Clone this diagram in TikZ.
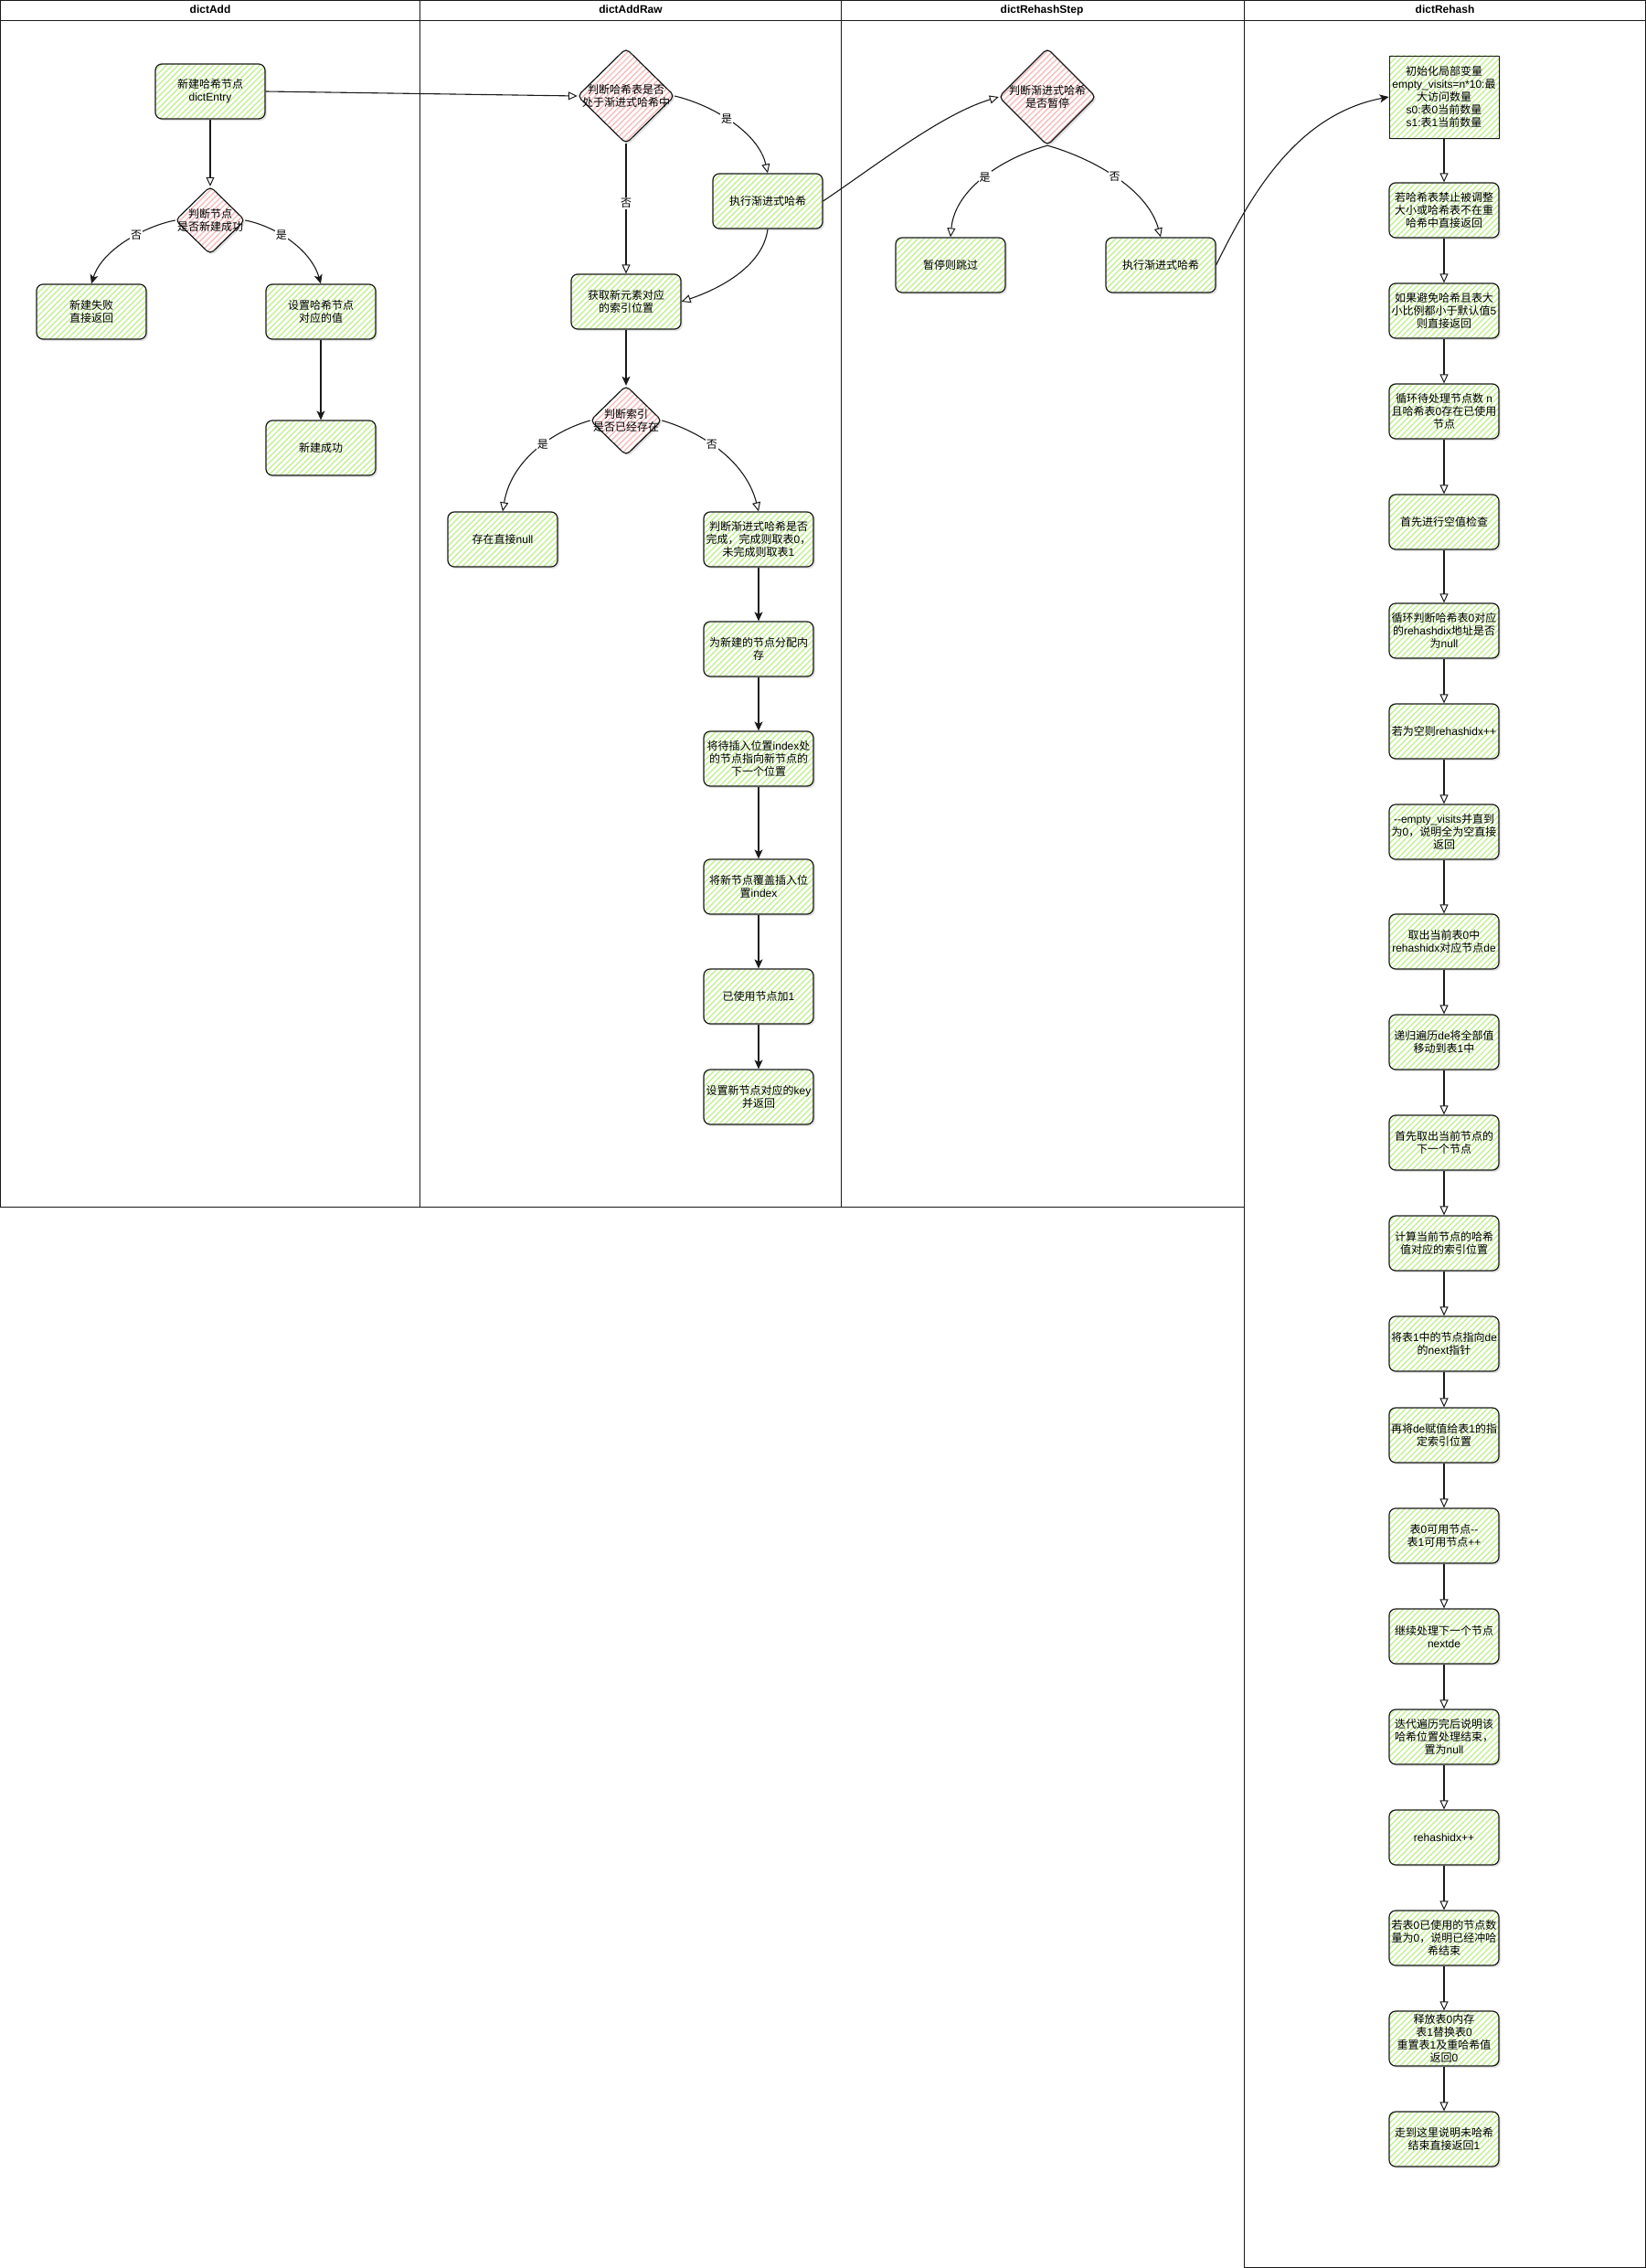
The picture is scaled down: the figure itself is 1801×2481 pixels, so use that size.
\documentclass[tikz,border=0pt]{standalone}
\usepackage{fontspec}
\setmainfont{Liberation Sans}
\newfontfamily\cjkfont{Noto Sans CJK SC}
\newfontfamily\latfont{Liberation Sans}
\usetikzlibrary{arrows.meta,patterns.meta,shadows}
\XeTeXinterchartokenstate=1
\newXeTeXintercharclass\CJKcls
\makeatletter
\def\setcjkrange#1#2{\count@=#1\relax\loop\XeTeXcharclass\count@=\CJKcls\relax\ifnum\count@<#2\relax\advance\count@ by 1\relax\repeat}
\makeatother
\setcjkrange{"4E00}{"9FFF}
\setcjkrange{"3000}{"303F}
\setcjkrange{"FF00}{"FFEF}
\XeTeXinterchartoks 0 \CJKcls = {\cjkfont}
\XeTeXinterchartoks 4095 \CJKcls = {\cjkfont}
\XeTeXinterchartoks \CJKcls 0 = {\latfont}
\XeTeXinterchartoks \CJKcls 4095 = {\latfont}
\definecolor{hatchg}{HTML}{C4F096}
\definecolor{hatchr}{HTML}{F7BDBD}
\definecolor{ink}{HTML}{1A1A1A}
\tikzset{
  lane/.style={draw=ink, line width=0.9pt},
  hdr/.style={font=\fontsize{12pt}{14pt}\selectfont\bfseries, inner sep=0pt, text height=9pt, text depth=2.5pt},
  box/.style={draw=ink, line width=1.2pt, rounded corners=7pt, minimum width=120pt, minimum height=60pt,
    inner sep=1pt, align=center,
    drop shadow={shadow xshift=2pt, shadow yshift=-2pt, opacity=0.22},
    preaction={fill=white},
    pattern={Lines[angle=45,distance=4.5pt,line width=1.4pt]}, pattern color=hatchg},
  sqbox/.style={box, rounded corners=0pt, line width=0.8pt, minimum height=90pt},
  diashape/.style={draw=ink, line width=1.2pt, rounded corners=5pt,
    drop shadow={shadow xshift=2pt, shadow yshift=-2pt, opacity=0.22},
    preaction={fill=white},
    pattern={Lines[angle=45,distance=4.5pt,line width=1.4pt]}, pattern color=hatchr},
  diatext/.style={inner sep=0pt, align=center},
  conn/.style={draw=ink, line width=1.1pt},
  hollow/.style={conn, -{Triangle[length=10pt,width=9pt,fill=white,line width=1pt]}},
  filled/.style={conn, -{Stealth[length=10pt,width=9pt,inset=2.5pt]}},
  lbl/.style={fill=white, inner sep=1pt}
}
\newcommand\mydia[6]{%
  \path[diashape] (#2,#3-#5/2) -- (#2+#4/2,#3) -- (#2,#3+#5/2) -- (#2-#4/2,#3) -- cycle;
  \node[diatext, minimum width=#4pt, minimum height=#5pt] (#1) at (#2,#3) {#6};}
\begin{document}
\begin{tikzpicture}[x=1pt,y=-1pt, font=\fontsize{12pt}{14pt}\selectfont]
\useasboundingbox (0,0) rectangle (1801,2481);
\fill[white] (0,0) rectangle (1801,2481);
% lanes
\draw[lane] (0.6,0.6) rectangle (459,1320);
\draw[lane] (459,0.6) rectangle (920,1320);
\draw[lane] (920,0.6) rectangle (1361,1320);
\draw[lane] (1361,0.6) rectangle (1800.4,2480.4);
\draw[lane] (0.6,22.5) -- (1800.4,22.5);
\node[hdr] (h-add) at (230,11.5) {dictAdd};
\node[hdr] (h-raw) at (690,11.5) {dictAddRaw};
\node[hdr] (h-step) at (1140,11.5) {dictRehashStep};
\node[hdr] (h-re) at (1581,11.5) {dictRehash};
% dictAdd
\node[box] (a1) at (230,100) {新建哈希节点\\dictEntry};
\mydia{a2}{230}{241}{76}{74}{判断节点\\是否新建成功}
\node[box] (a3) at (100,341) {新建失败\\直接返回};
\node[box] (a4) at (351,341) {设置哈希节点\\对应的值};
\node[box] (a5) at (351,490) {新建成功};
% dictAddRaw
\mydia{r1}{685}{105}{106}{104}{判断哈希表是否\\处于渐进式哈希中}
\node[box] (r2) at (840,220) {执行渐进式哈希};
\node[box] (r3) at (685,330) {获取新元素对应\\的索引位置};
\mydia{r4}{685}{460}{78}{76}{判断索引\\是否已经存在}
\node[box] (r5) at (550,590) {存在直接null};
\node[box] (r6) at (830,590) {判断渐进式哈希是否\\完成，完成则取表0，\\未完成则取表1};
\node[box] (r7) at (830,710) {为新建的节点分配内\\存};
\node[box] (r8) at (830,830) {将待插入位置index处\\的节点指向新节点的\\下一个位置};
\node[box] (r9) at (830,970) {将新节点覆盖插入位\\置index};
\node[box] (r10) at (830,1090) {已使用节点加1};
\node[box] (r11) at (830,1200) {设置新节点对应的key\\并返回};
% dictRehashStep
\mydia{s1}{1146}{106}{106}{106}{判断渐进式哈希\\是否暂停}
\node[box] (s2) at (1040,290) {暂停则跳过};
\node[box] (s3) at (1270,290) {执行渐进式哈希};
% dictRehash
\node[sqbox] (h1) at (1580,106) {初始化局部变量\\empty\_visits=n*10:最\\大访问数量\\s0:表0当前数量\\s1:表1当前数量};
\node[box] (h2) at (1580,230) {若哈希表禁止被调整\\大小或哈希表不在重\\哈希中直接返回};
\node[box] (h3) at (1580,340) {如果避免哈希且表大\\小比例都小于默认值5\\则直接返回};
\node[box] (h4) at (1580,450) {循环待处理节点数 n\\且哈希表0存在已使用\\节点};
\node[box] (h5) at (1580,571) {首先进行空值检查};
\node[box] (h6) at (1580,690) {循环判断哈希表0对应\\的rehashdix地址是否\\为null};
\node[box] (h7) at (1580,800) {若为空则rehashidx++};
\node[box] (h8) at (1580,910) {-{}-empty\_visits并直到\\为0，说明全为空直接\\返回};
\node[box] (h9) at (1580,1030) {取出当前表0中\\rehashidx对应节点de};
\node[box] (h10) at (1580,1140) {递归遍历de将全部值\\移动到表1中};
\node[box] (h11) at (1580,1250) {首先取出当前节点的\\下一个节点};
\node[box] (h12) at (1580,1360) {计算当前节点的哈希\\值对应的索引位置};
\node[box] (h13) at (1580,1470) {将表1中的节点指向de\\的next指针};
\node[box] (h14) at (1580,1570) {再将de赋值给表1的指\\定索引位置};
\node[box] (h15) at (1580,1680) {表0可用节点-{}-\\表1可用节点++};
\node[box] (h16) at (1580,1790) {继续处理下一个节点\\nextde};
\node[box] (h17) at (1580,1900) {迭代遍历完后说明该\\哈希位置处理结束，\\置为null};
\node[box] (h18) at (1580,2010) {rehashidx++};
\node[box] (h19) at (1580,2120) {若表0已使用的节点数\\量为0，说明已经冲哈\\希结束};
\node[box] (h20) at (1580,2230) {释放表0内存\\表1替换表0\\重置表1及重哈希值\\返回0};
\node[box] (h21) at (1580,2340) {走到这里说明未哈希\\结束直接返回1};
% connectors dictAdd
\draw[hollow] (a1.south) -- (a2.north);
\draw[filled] (a2.west) .. controls (160,247) and (112,272) .. (a3.north) node[lbl,pos=0.4] (l1) {否};
\draw[filled] (a2.east) .. controls (300,247) and (340,272) .. (a4.north) node[lbl,pos=0.4] (l2) {是};
\draw[filled] (a4.south) -- (a5.north);
\draw[hollow] (a1.east) -- (r1.west);
% connectors dictAddRaw
\draw[hollow] (r1.south) -- (r3.north) node[lbl,pos=0.46] (l3) {否};
\draw[hollow] (r1.east) .. controls (780,115) and (830,145) .. (r2.north) node[lbl,pos=0.45] (l4) {是};
\draw[hollow] (r2.south) .. controls (835,290) and (790,315) .. (r3.east);
\draw[filled] (r3.south) -- (r4.north);
\draw[hollow] (r4.west) .. controls (610,470) and (560,500) .. (r5.north) node[lbl,pos=0.45] (l5) {是};
\draw[hollow] (r4.east) .. controls (760,470) and (815,500) .. (r6.north) node[lbl,pos=0.45] (l6) {否};
\draw[filled] (r6.south) -- (r7.north);
\draw[filled] (r7.south) -- (r8.north);
\draw[filled] (r8.south) -- (r9.north);
\draw[filled] (r9.south) -- (r10.north);
\draw[filled] (r10.south) -- (r11.north);
\draw[hollow] (r2.east) .. controls (960,180) and (1030,125) .. (s1.west);
% connectors dictRehashStep
\draw[hollow] (s1.south) .. controls (1100,172) and (1045,205) .. (s2.north) node[lbl,pos=0.5] (l7) {是};
\draw[hollow] (s1.south) .. controls (1192,172) and (1255,205) .. (s3.north) node[lbl,pos=0.5] (l8) {否};
\draw[filled] (s3.east) .. controls (1370,210) and (1420,125) .. (h1.west);
% connectors dictRehash
\foreach \i [evaluate=\i as \j using int(\i+1)] in {1,...,20} {
  \draw[hollow] (h\i.south) -- (h\j.north);
}
\end{tikzpicture}
\end{document}
